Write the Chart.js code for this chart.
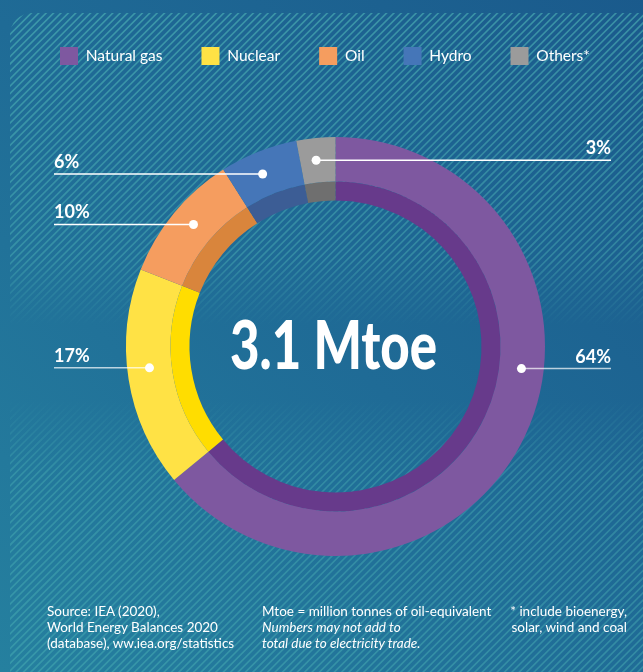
<!DOCTYPE html>
<html>
<head>
<meta charset="utf-8">
<script src="https://cdn.jsdelivr.net/npm/chart.js@4.4.1/dist/chart.umd.min.js"></script>
<style>
    body { margin: 0; background: #1f6b96; }
    #wrap { position: relative; width: 643px; height: 672px; overflow: hidden; }
    #chart { position: absolute; left: 0; top: 0; }
    .note { position: absolute; top: 603px; color: #fff; font-family: Lato, sans-serif; font-size: 13.5px; line-height: 16px; white-space: nowrap; }
    .note i { font-style: italic; }
</style>
</head>
<body>
<div id="wrap">
    <canvas id="chart" width="650" height="672"></canvas>
    <div class="note" style="left:47px;">Source: IEA (2020),<br>World Energy Balances 2020<br>(database), ww.iea.org/statistics</div>
    <div class="note" style="left:262px;">Mtoe = million tonnes of oil-equivalent<br><i>Numbers may not add to</i><br><i>total due to electricity trade.</i></div>
    <div class="note" style="right:16px; text-align:right;">* include bioenergy,<br>solar, wind and coal</div>
</div>
<script>
var sources = ['Natural gas', 'Nuclear', 'Oil', 'Hydro', 'Others*'];
var shares = [64, 17, 10, 6, 3];
var totalLabel = '3.1 Mtoe';

var outerColors = ['#7e58a0', '#ffe245', '#f59d5f', '#4576b8', '#9b9b9b'];
var innerColors = ['#673a8b', '#ffdd00', '#d9853c', '#3c5d95', '#6f6f6f'];

// background: gradient + diagonal stripes that fade out around the middle
var backdrop = {
    id: 'backdrop',
    beforeDraw: function (chart) {
        var ctx = chart.ctx;
        var w = chart.width, h = chart.height;
        ctx.save();
        var g = ctx.createLinearGradient(0, h, w, 0);
        g.addColorStop(0, '#25809f');
        g.addColorStop(0.5, '#1f6b96');
        g.addColorStop(1, '#1a5a8c');
        ctx.fillStyle = g;
        ctx.fillRect(0, 0, w, h);

        ctx.beginPath();
        ctx.roundRect(10, 13, w + 20, h + 20, [22, 0, 0, 0]);
        ctx.clip();
        var s = ctx.createLinearGradient(0, 13, 0, h);
        s.addColorStop(0, 'rgba(90,200,190,0.5)');
        s.addColorStop(250 / h, 'rgba(90,200,190,0.35)');
        s.addColorStop(318 / h, 'rgba(90,200,190,0)');
        s.addColorStop(395 / h, 'rgba(90,200,190,0)');
        s.addColorStop(470 / h, 'rgba(90,200,190,0.3)');
        s.addColorStop(1, 'rgba(90,200,190,0.35)');
        ctx.strokeStyle = s;
        ctx.lineWidth = 1.6;
        for (var c = 0; c < w + h + 20; c += 7.4) {
            ctx.beginPath();
            ctx.moveTo(c, 0);
            ctx.lineTo(c - h - 20, h + 20);
            ctx.stroke();
        }
        ctx.restore();
    }
};

var leaderLines = {
    id: 'leaderLines',
    afterDatasetsDraw: function (chart, args, opts) {
        var ctx = chart.ctx;
        var meta = chart.getDatasetMeta(0);
        ctx.save();
        meta.data.forEach(function (arc, i) {
            var p = arc.getProps(['x', 'y', 'startAngle', 'endAngle', 'innerRadius', 'outerRadius'], true);
            var a = p.startAngle + (p.endAngle - p.startAngle) * opts.anchor[i];
            var r = (p.innerRadius + p.outerRadius) / 2;
            var dx = p.x + Math.cos(a) * r;
            var dy = p.y + Math.sin(a) * r;
            var left = opts.side[i] === 'left';
            var ex = left ? opts.leftX : opts.rightX;
            ctx.strokeStyle = 'rgba(255,255,255,' + opts.alpha[i] + ')';
            ctx.lineWidth = 1.5;
            ctx.beginPath();
            ctx.moveTo(ex, dy);
            ctx.lineTo(dx, dy);
            ctx.stroke();
            ctx.fillStyle = '#fff';
            ctx.beginPath();
            ctx.arc(dx, dy, 4.5, 0, Math.PI * 2);
            ctx.fill();
            ctx.font = 'bold 18px Lato';
            ctx.textAlign = left ? 'left' : 'right';
            ctx.textBaseline = 'alphabetic';
            ctx.fillText(shares[i] + '%', ex, dy - 6);
        });
        ctx.restore();
    }
};

var centerText = {
    id: 'centerText',
    afterDraw: function (chart) {
        var ctx = chart.ctx;
        var arc = chart.getDatasetMeta(0).data[0];
        ctx.save();
        ctx.font = '900 66px Lato';
        ctx.fillStyle = '#fff';
        ctx.textAlign = 'center';
        ctx.textBaseline = 'alphabetic';
        var tw = ctx.measureText(totalLabel).width;
        var sx = 207 / tw;
        ctx.translate(arc.x - 2, arc.y + 22);
        ctx.scale(sx, 1);
        ctx.fillText(totalLabel, 0, 0);
        ctx.restore();
    }
};

var ctx = document.getElementById('chart');
var chart = new Chart(ctx, {
    type: 'doughnut',
    data: {
        labels: sources,
        datasets: [
            {
                data: shares,
                backgroundColor: outerColors,
                borderWidth: 0,
                borderColor: 'rgba(0,0,0,0)',
                weight: 44.5
            },
            {
                data: shares,
                backgroundColor: innerColors,
                borderWidth: 0,
                borderColor: 'rgba(0,0,0,0)',
                weight: 19
            }
        ]
    },
    options: {
        responsive: false,
        animation: false,
        events: [],
        radius: 209.5,
        cutout: '69.69%',
        layout: {
            padding: { top: 8, left: 21, right: 0, bottom: 54 }
        },
        plugins: {
            legend: {
                position: 'top',
                align: 'start',
                labels: {
                    color: '#fff',
                    boxWidth: 18,
                    boxHeight: 18,
                    padding: 39,
                    font: { family: 'Lato', size: 15.5 }
                }
            },
            tooltip: { enabled: false },
            leaderLines: {
                anchor: [0.42, 0.54, 0.53, 0.44, 0.45],
                side: ['right', 'left', 'left', 'left', 'right'],
                alpha: [0.7, 0.7, 1, 1, 1],
                leftX: 54,
                rightX: 611
            }
        }
    },
    plugins: [backdrop, leaderLines, centerText]
});
</script>
</body>
</html>
